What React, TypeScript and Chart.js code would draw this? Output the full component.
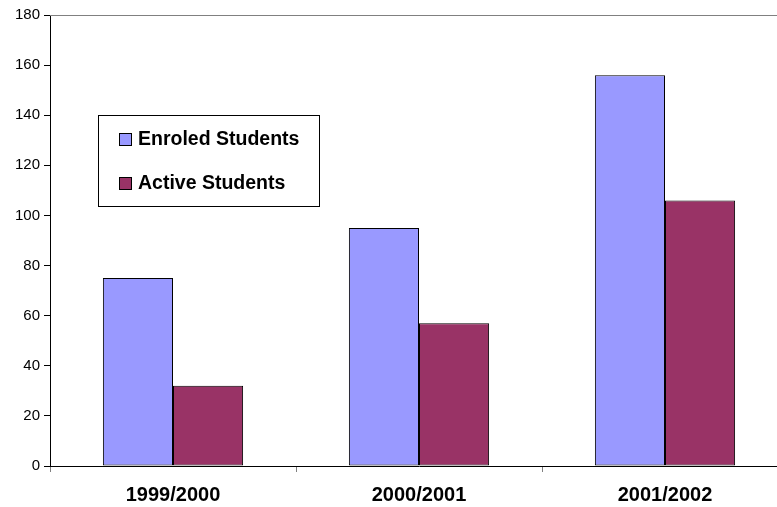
import React, { useEffect, useRef } from "react";
import { Chart, registerables } from "chart.js";

Chart.register(...registerables);

const categories = ["1999/2000", "2000/2001", "2001/2002"];
const enroled = [75, 95, 156];
const active = [32, 57, 106];
const seriesNames = ["Enroled Students", "Active Students"];
const seriesColors = ["#9999FF", "#993366"];

const overlayPlugin = {
  id: "overlay",
  afterDraw(chart: any) {
    const ctx = chart.ctx;
    const ca = chart.chartArea;
    ctx.save();
    // top border of plot area
    ctx.strokeStyle = "#808080";
    ctx.lineWidth = 1;
    ctx.beginPath();
    ctx.moveTo(ca.left, Math.round(ca.top) + 0.5);
    ctx.lineTo(ca.right, Math.round(ca.top) + 0.5);
    ctx.stroke();

    // legend box
    const bx = 98, by = 115, bw = 221, bh = 91;
    ctx.fillStyle = "#FFFFFF";
    ctx.fillRect(bx, by, bw, bh);
    ctx.strokeStyle = "#000000";
    ctx.strokeRect(bx + 0.5, by + 0.5, bw, bh);
    ctx.font = "bold 19.5px 'Liberation Sans', Arial, sans-serif";
    ctx.textBaseline = "middle";
    ctx.textAlign = "left";
    const rows = [139, 183];
    seriesNames.forEach((name, i) => {
      const cy = rows[i];
      ctx.fillStyle = seriesColors[i];
      ctx.fillRect(119, cy - 6, 12, 12);
      ctx.strokeStyle = "#000000";
      ctx.strokeRect(119.5, cy - 5.5, 12, 12);
      ctx.fillStyle = "#000000";
      ctx.fillText(name, 138, cy + 1);
    });
    ctx.restore();
  },
};

export default function App() {
  const ref = useRef<HTMLCanvasElement>(null);
  useEffect(() => {
    if (!ref.current) return;
    const chart = new Chart(ref.current, {
      type: "bar",
      data: {
        labels: categories,
        datasets: [
          {
            label: seriesNames[0],
            data: enroled,
            backgroundColor: seriesColors[0],
            borderColor: "#000000",
            borderWidth: 1,
            borderSkipped: false,
          },
          {
            label: seriesNames[1],
            data: active,
            backgroundColor: seriesColors[1],
            borderColor: "#000000",
            borderWidth: 1,
            borderSkipped: false,
          },
        ],
      },
      options: {
        responsive: false,
        animation: false,
        devicePixelRatio: 1,
        layout: { padding: { top: 15, left: 0, right: 0, bottom: 0 } },
        plugins: { legend: { display: false }, tooltip: { enabled: false } },
        datasets: { bar: { categoryPercentage: 0.57, barPercentage: 1 } },
        scales: {
          x: {
            offset: true,
            grid: {
              offset: true,
              drawOnChartArea: false,
              drawTicks: true,
              tickLength: 6,
              color: "#808080",
            },
            border: { display: true, color: "#000000", width: 1 },
            ticks: {
              color: "#000000",
              padding: 11,
              maxRotation: 0,
              font: { family: "'Liberation Sans', Arial, sans-serif", size: 20, weight: "bold" },
            },
            afterFit(scale: any) {
              scale.height = 41;
            },
          },
          y: {
            min: 0,
            max: 180,
            ticks: {
              stepSize: 20,
              color: "#000000",
              padding: 4,
              font: { family: "'Liberation Sans', Arial, sans-serif", size: 15 },
            },
            grid: {
              drawOnChartArea: false,
              drawTicks: true,
              tickLength: 6,
              color: "#000000",
            },
            border: { display: true, color: "#000000", width: 1 },
            afterFit(scale: any) {
              scale.width = 50;
            },
          },
        },
      },
      plugins: [overlayPlugin],
    } as any);
    return () => chart.destroy();
  }, []);
  return (
    <div style={{ position: "fixed", left: 0, top: 0, width: 777, height: 507, overflow: "hidden", background: "#fff" }}>
      <canvas ref={ref} width={788} height={507} style={{ display: "block" }} />
    </div>
  );
}
